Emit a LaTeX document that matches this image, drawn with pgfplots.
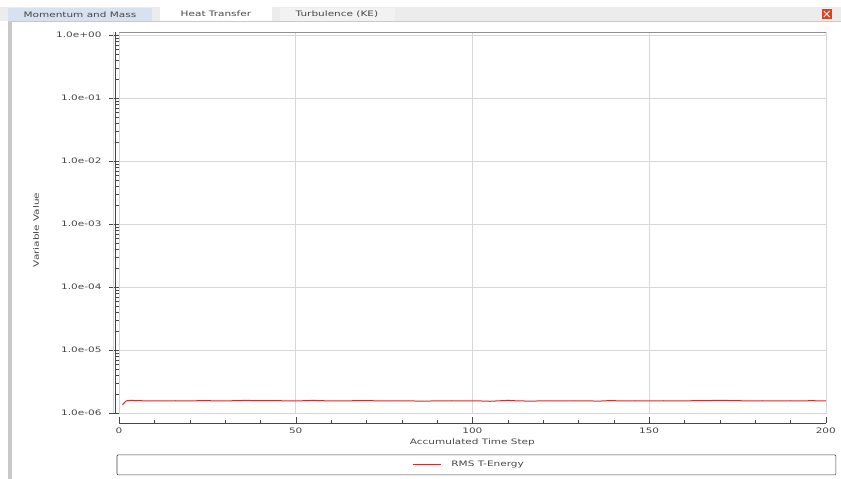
\documentclass[border=0pt]{standalone}
\usepackage{pgfplots}
\pgfplotsset{compat=1.18}
\usepackage{fontspec}
\setmainfont{DejaVu Sans}[FakeStretch=1.4]
\definecolor{tabblue}{RGB}{214,226,240}
\definecolor{tabgray}{RGB}{236,236,236}
\definecolor{bordergray}{RGB}{200,200,200}
\definecolor{txt}{RGB}{70,70,70}
\definecolor{gridc}{RGB}{215,215,215}
\definecolor{linered}{RGB}{220,40,40}
\begin{document}
\begin{tikzpicture}[x=1pt,y=1pt]
% canvas
\fill[white] (0,0) rectangle (841,-479);
% tab bar
\fill[tabgray] (0,-7) rectangle (841,-21);
\fill[tabblue] (8,-8) rectangle (152,-21);
\fill[white] (160,-7) rectangle (272,-21);
\fill[tabgray!70!white] (280,-8) rectangle (395,-21);
\node[font=\fontsize{7.5}{8}\selectfont, text=txt] at (80,-14.5) {Momentum and Mass};
\node[font=\fontsize{7.5}{8}\selectfont, text=txt] at (216,-14) {Heat Transfer};
\node[font=\fontsize{7.5}{8}\selectfont, text=txt] at (337,-14.5) {Turbulence (KE)};
\fill[red!50!brown] (822,-9) rectangle (832,-19);
\draw[white, line width=0.8pt] (824,-11) -- (830,-17) (824,-17) -- (830,-11);
% left border
\fill[bordergray] (8,-21) rectangle (12,-479);
\draw[bordergray] (12,-21) -- (841,-21);
% y label
\node[font=\fontsize{7.5}{8}\selectfont, text=txt, rotate=90] at (36,-230) {Variable Value};
% main axis
\begin{axis}[
  at={(119pt,-413pt)}, anchor=south west,
  scale only axis, width=707pt, height=381pt,
  xmin=0, xmax=200,
  ymode=log, ymin=1e-6, ymax=1.116,
  axis line style={draw=gridc},
  xtick={50,100,150}, xticklabels={}, xtick style={draw=none},
  ytick={1e-6,1e-5,1e-4,1e-3,1e-2,1e-1,1},
  yticklabels={1.0e-06,1.0e-05,1.0e-04,1.0e-03,1.0e-02,1.0e-01,1.0e+00},
  minor ytick={2e-6,3e-6,4e-6,5e-6,6e-6,7e-6,8e-6,9e-6,
               2e-5,3e-5,4e-5,5e-5,6e-5,7e-5,8e-5,9e-5,
               2e-4,3e-4,4e-4,5e-4,6e-4,7e-4,8e-4,9e-4,
               2e-3,3e-3,4e-3,5e-3,6e-3,7e-3,8e-3,9e-3,
               2e-2,3e-2,4e-2,5e-2,6e-2,7e-2,8e-2,9e-2,
               2e-1,3e-1,4e-1,5e-1,6e-1,7e-1,8e-1,9e-1},
  ytick pos=left, tick align=outside,
  ytick style={draw=txt},
  major tick length=10pt, minor tick length=4pt,
  grid=major, major grid style={draw=gridc, line width=0.6pt},
  yticklabel style={font=\fontsize{7.5}{8}\selectfont, text=txt, xshift=-4pt},
  clip=false,
]
\draw[txt, line width=0.6pt] ([xshift=-4pt]axis description cs:0,0) -- ([xshift=-4pt]axis description cs:0,1);
\draw[gridc, line width=0.6pt] ([xshift=-6pt]axis description cs:0,0) -- ([xshift=-6pt]axis description cs:0,1);
\draw[txt!60, line width=0.5pt] (axis description cs:0,1) -- (axis description cs:1,1);
\addplot[linered, line width=1pt] coordinates {
(1,1.35e-6) (2,1.55e-6) (3,1.58e-6) (5,1.57e-6) (8,1.55e-6) (10,1.56e-6)
(13,1.55e-6) (16,1.56e-6) (20,1.55e-6) (24,1.57e-6) (28,1.55e-6) (32,1.56e-6)
(36,1.58e-6) (40,1.56e-6) (44,1.57e-6) (48,1.55e-6) (52,1.56e-6) (55,1.58e-6)
(58,1.56e-6) (62,1.55e-6) (66,1.56e-6) (70,1.57e-6) (74,1.55e-6) (78,1.56e-6)
(82,1.55e-6) (86,1.54e-6) (90,1.55e-6) (94,1.56e-6) (98,1.55e-6) (102,1.55e-6)
(105,1.53e-6) (108,1.56e-6) (110,1.58e-6) (113,1.55e-6) (117,1.54e-6) (121,1.56e-6)
(125,1.55e-6) (129,1.56e-6) (133,1.55e-6) (136,1.54e-6) (139,1.57e-6) (142,1.55e-6)
(146,1.56e-6) (150,1.55e-6) (154,1.56e-6) (158,1.55e-6) (162,1.56e-6) (166,1.57e-6)
(170,1.58e-6) (174,1.57e-6) (178,1.55e-6) (182,1.56e-6) (186,1.55e-6) (190,1.56e-6)
(194,1.55e-6) (196,1.57e-6) (198,1.55e-6) (200,1.56e-6)
};
\end{axis}
% x axis
\begin{axis}[
  at={(119pt,-423pt)}, anchor=south west,
  scale only axis, width=707pt, height=1pt,
  xmin=0, xmax=200, ymin=0, ymax=1,
  axis x line=bottom, x axis line style={-, draw=txt},
  hide y axis,
  xtick={0,50,100,150,200}, minor x tick num=4,
  tick align=inside, xtick style={draw=txt},
  major tick length=6pt, minor tick length=3pt,
  /pgf/number format/assume math mode=true,
  xticklabel style={font=\fontsize{7.5}{8}\selectfont, text=txt, yshift=-1pt},
  xlabel={Accumulated Time Step},
  xlabel style={font=\fontsize{7.5}{8}\selectfont, text=txt, yshift=1pt},
]
\addplot[draw=none] coordinates {(0,0)};
\end{axis}
% legend
\draw[txt, rounded corners=1pt, line width=0.6pt] (117,-455) rectangle (836,-475);
\draw[linered, line width=1pt] (413,-465) -- (441,-465);
\node[font=\fontsize{7.5}{8}\selectfont, text=txt, anchor=west] at (448,-465) {RMS T-Energy};
\end{tikzpicture}
\end{document}
